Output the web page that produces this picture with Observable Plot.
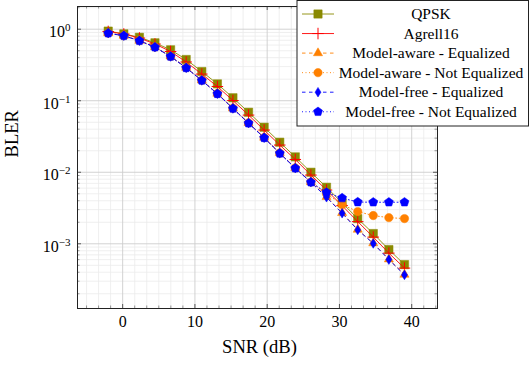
<!DOCTYPE html>
<html>
<head>
<meta charset="utf-8">
<script src="https://cdn.jsdelivr.net/npm/d3@7"></script>
<script src="https://cdn.jsdelivr.net/npm/@observablehq/plot@0.6"></script>
<style>
  html, body { margin: 0; padding: 0; background: #fff; }
  #chart { width: 531px; height: 366px; }
</style>
</head>
<body>
<div id="chart"></div>
<script>
// SNR grid (dB) shared by every curve
const snr = [-2, 0.16, 2.32, 4.47, 6.63, 8.79, 10.95, 13.11, 15.26, 17.42,
             19.58, 21.74, 23.89, 26.05, 28.21, 30.37, 32.53, 34.68, 36.84, 39];

// Block error rates
const qpsk = [0.94, 0.86, 0.77, 0.645, 0.515, 0.377, 0.256, 0.172, 0.110, 0.069,
              0.0426, 0.0263, 0.0164, 0.0100, 0.00617, 0.00373, 0.00225, 0.00139, 0.00083, 0.000512];
const agrell16 = [0.93, 0.857, 0.753, 0.621, 0.488, 0.348, 0.236, 0.158, 0.1007, 0.063,
                  0.0389, 0.024, 0.0151, 0.00914, 0.00564, 0.00342, 0.00204, 0.00124, 0.00074, 0.000457];
const modelAwareEq = [0.882, 0.812, 0.692, 0.563, 0.417, 0.29, 0.193, 0.126, 0.0785, 0.049,
                      0.0306, 0.0186, 0.0115, 0.0073, 0.00452, 0.0027, 0.00158, 0.00102, 0.000607, 0.000371];
const modelAwareNotEq = [0.882, 0.812, 0.692, 0.563, 0.417, 0.29, 0.193, 0.126, 0.0785, 0.049,
                         0.0306, 0.0186, 0.0115, 0.0073, 0.0050, 0.00353, 0.00282, 0.00248, 0.00232, 0.00225];
const modelFreeEq = [0.879, 0.809, 0.689, 0.560, 0.415, 0.288, 0.192, 0.125, 0.0778, 0.0485,
                     0.0303, 0.0184, 0.01138, 0.00725, 0.00447, 0.00267, 0.00156, 0.00101, 0.000601, 0.000367];
const modelFreeNotEq = [0.879, 0.809, 0.689, 0.560, 0.415, 0.288, 0.192, 0.125, 0.0778, 0.0485,
                        0.0303, 0.0184, 0.01138, 0.00725, 0.0052, 0.00436, 0.00383, 0.00381, 0.00381, 0.00381];

const seriesNames = ["QPSK", "Agrell16", "Model-aware - Equalized", "Model-aware - Not Equalized",
                     "Model-free - Equalized", "Model-free - Not Equalized"];
const seriesValues = [qpsk, agrell16, modelAwareEq, modelAwareNotEq, modelFreeEq, modelFreeNotEq];

// Axis ticks
const xTicks = [0, 10, 20, 30, 40];
const yTicks = [1e-3, 1e-2, 1e-1, 1];

// Custom filled marker shapes
const pentagon = {
  draw(ctx, size) {
    const r = Math.sqrt(size / Math.PI) * 1.1;
    for (let i = 0; i < 5; i++) {
      const a = -Math.PI / 2 + i * 2 * Math.PI / 5;
      const px = r * Math.cos(a), py = r * Math.sin(a);
      i ? ctx.lineTo(px, py) : ctx.moveTo(px, py);
    }
    ctx.closePath();
  }
};
const tallDiamond = {
  draw(ctx, size) {
    const r = Math.sqrt(size / Math.PI);
    ctx.moveTo(0, -r * 1.2);
    ctx.lineTo(r * 0.75, 0);
    ctx.lineTo(0, r * 1.2);
    ctx.lineTo(-r * 0.75, 0);
    ctx.closePath();
  }
};

const olive = "#8a8a00", red = "#ff0000", orange = "#ff8000", blue = "#0000ff";
const styles = [
  {color: olive,  dash: null,      symbol: "square",   r: 4.7, filled: true},
  {color: red,    dash: null,      symbol: "plus",     r: 3.8, filled: false},
  {color: orange, dash: "3.5,3.5", symbol: "triangle", r: 3.4, filled: true},
  {color: orange, dash: "1,2.5",   symbol: "circle",   r: 4.2, filled: true},
  {color: blue,   dash: "3.5,3.5", symbol: tallDiamond, r: 4.0, filled: true},
  {color: blue,   dash: "1,2.5",   symbol: pentagon,  r: 4.3, filled: true}
];

const W = 531, H = 366;
const mL = 77, mR = 94, mT = 6, mB = 58;
const innerW = W - mL - mR, innerH = H - mT - mB;
const xDomain = [-6.25, 43.57], yDomain = [1.245e-4, 2.077];

// Minor grid positions, kept inside the frame
const xMinor = [];
for (let m = -10; m <= 40; m += 10) for (let k = 1; k < 6; k++) xMinor.push(m + k * 10 / 6);
const yMinor = [];
for (let e = -4; e <= 0; e++) for (let k = 2; k <= 9; k++) yMinor.push(k * Math.pow(10, e));
const xMinorIn = xMinor.filter(v => v > xDomain[0] && v < xDomain[1]);
const yMinorIn = yMinor.filter(v => v > yDomain[0] && v < yDomain[1]);

const marks = [
  Plot.gridX(xMinorIn, {stroke: "#ebebeb", strokeOpacity: 1, strokeWidth: 0.8}),
  Plot.gridY(yMinorIn, {stroke: "#ebebeb", strokeOpacity: 1, strokeWidth: 0.8}),
  Plot.gridX(xTicks, {stroke: "#cdcdcd", strokeOpacity: 1, strokeWidth: 0.9}),
  Plot.gridY(yTicks, {stroke: "#cdcdcd", strokeOpacity: 1, strokeWidth: 0.9}),
  // inward ticks on all four sides
  Plot.tickX(xTicks, {x: d => d, insetTop: innerH - 4, stroke: "#333", strokeWidth: 0.8}),
  Plot.tickX(xTicks, {x: d => d, insetBottom: innerH - 4, stroke: "#333", strokeWidth: 0.8}),
  Plot.tickX(xMinorIn, {x: d => d, insetTop: innerH - 2.5, stroke: "#555", strokeWidth: 0.6}),
  Plot.tickX(xMinorIn, {x: d => d, insetBottom: innerH - 2.5, stroke: "#555", strokeWidth: 0.6}),
  Plot.tickY(yTicks, {y: d => d, insetRight: innerW - 4, stroke: "#333", strokeWidth: 0.8}),
  Plot.tickY(yTicks, {y: d => d, insetLeft: innerW - 4, stroke: "#333", strokeWidth: 0.8}),
  Plot.tickY(yMinorIn, {y: d => d, insetRight: innerW - 2.5, stroke: "#555", strokeWidth: 0.6}),
  Plot.tickY(yMinorIn, {y: d => d, insetLeft: innerW - 2.5, stroke: "#555", strokeWidth: 0.6}),
  Plot.frame({stroke: "#222", strokeWidth: 1})
];

seriesNames.forEach((name, si) => {
  const st = styles[si];
  const rows = snr.map((x, i) => ({x, y: seriesValues[si][i]}));
  marks.push(Plot.line(rows, {x: "x", y: "y", stroke: st.color, strokeWidth: 0.9,
                              strokeDasharray: st.dash || undefined}));
  marks.push(Plot.dot(rows, {x: "x", y: "y", symbol: () => st.symbol, r: st.r,
                             fill: st.filled ? st.color : "none",
                             stroke: st.color, strokeWidth: st.filled ? 0.5 : 1}));
});

marks.push(
  Plot.axisX({ticks: xTicks, tickSize: 0, tickPadding: 7, fontSize: 16, label: null, tickFormat: d => String(d)}),
  Plot.axisY({ticks: yTicks, tickSize: 0, tickPadding: 7, fontSize: 16, label: null, dy: 3,
              className: "ylog", tickFormat: d => "10^" + String(Math.round(Math.log10(d))).replace("-", "\u2212")}),
  Plot.text(["SNR (dB)"], {text: d => d, frameAnchor: "bottom", dy: 44, dx: 2, fontSize: 18.6}),
  Plot.text(["BLER"], {text: d => d, frameAnchor: "left", dx: -65, rotate: -90, fontSize: 18.6})
);

const chart = Plot.plot({
  width: W, height: H,
  marginLeft: mL, marginRight: mR, marginTop: mT, marginBottom: mB,
  style: {fontFamily: "'Liberation Serif', 'Times New Roman', serif", fontSize: "16px", background: "#fff", color: "#000"},
  x: {type: "linear", domain: xDomain, axis: null},
  y: {type: "log", domain: yDomain, axis: null},
  symbol: {type: "identity"},
  marks
});

// Exponent tick labels: 10 with a raised power
d3.select(chart).selectAll("g.ylog text").each(function () {
  const t = d3.select(this);
  const [base, exp] = t.text().split("^");
  if (exp === undefined) return;
  t.text(base);
  t.append("tspan").attr("dy", "-6").attr("font-size", 11).text(exp);
});

// Legend box in the top-right corner
const leg = d3.select(chart).append("g").attr("font-size", 15.5);
leg.append("rect").attr("x", 297).attr("y", 0.5).attr("width", 231.5).attr("height", 125.5)
  .attr("fill", "#fff").attr("stroke", "#222").attr("stroke-width", 1);
seriesNames.forEach((name, si) => {
  const st = styles[si];
  const cy = 14 + 19.55 * si;
  leg.append("line").attr("x1", 302).attr("x2", 334).attr("y1", cy).attr("y2", cy)
    .attr("stroke", st.color).attr("stroke-width", 0.9)
    .attr("stroke-dasharray", st.dash || null);
  const symType = typeof st.symbol === "string"
    ? {square: d3.symbolSquare, plus: d3.symbolPlus, triangle: d3.symbolTriangle, circle: d3.symbolCircle}[st.symbol]
    : st.symbol;
  leg.append("path").attr("transform", `translate(318,${cy})`)
    .attr("d", d3.symbol(symType, Math.PI * st.r * st.r)())
    .attr("fill", st.filled ? st.color : "none").attr("stroke", st.color)
    .attr("stroke-width", st.filled ? 0.5 : 1);
  leg.append("text").attr("x", 431).attr("y", cy).attr("dy", "0.33em")
    .attr("text-anchor", "middle").attr("fill", "#000").text(name);
});

document.getElementById("chart").appendChild(chart);
</script>
</body>
</html>
